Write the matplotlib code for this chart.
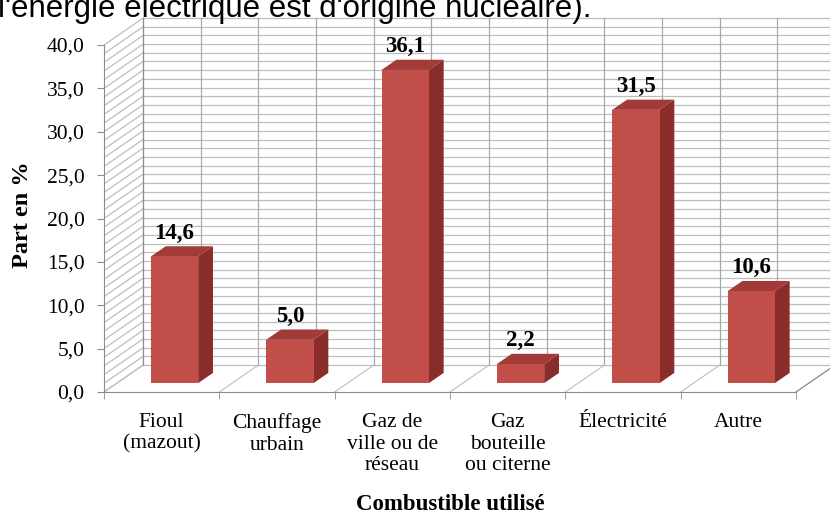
"""
Part des combustibles utilisés pour le chauffage — faux histogramme 3D façon Excel.
"""
import numpy as np
import matplotlib
matplotlib.use("Agg")
import matplotlib.pyplot as plt
from matplotlib.patches import Polygon

# --- données -------------------------------------------------------------
categories = ["Fioul\n(mazout)", "Chauffage\nurbain", "Gaz de\nville ou de\nréseau",
              "Gaz\nbouteille\nou citerne", "Électricité", "Autre"]
values = [14.6, 5.0, 36.1, 2.2, 31.5, 10.6]
y_ticks = [0, 5, 10, 15, 20, 25, 30, 35, 40]
y_max = 40
caption = "l'énergie électrique est d'origine nucléaire)."

# --- style -----------------------------------------------------------------
SERIF = "Liberation Serif"
C_FRONT = "#c24e4a"
C_SIDE = "#8a2c2a"
C_TOP = "#a23a37"
C_GRID = "#bdbdbd"
C_AXIS = "#8c8c8c"

# profondeur de la perspective (en unités de données)
DX = 0.338          # décalage horizontal (catégories)
DY = 3.1            # décalage vertical (unités de valeur)
Z0, Z1 = 0.33, 0.71 # position des barres dans la profondeur
BAR_W = 0.41

W, H = 830, 516
fig = plt.figure(figsize=(W / 100, H / 100), dpi=100)
ax = fig.add_axes([104 / W, 124 / H, (W - 104) / W, 375 / H])
n = len(values)
ax.set_xlim(-0.5, -0.5 + (W - 104) / ((796 - 104) / n))
ax.set_ylim(0, 375 / (347 / y_max))

# paroi de gauche (lignes obliques) et paroi du fond
for v in range(0, y_max + 1):
    ax.plot([-0.5, -0.5 + DX], [v, v + DY], color=C_GRID, lw=0.9, zorder=1)
    ax.plot([-0.5 + DX, n - 0.5 + DX], [v + DY, v + DY], color=C_GRID, lw=0.9, zorder=1)
for k in range(0, 2 * n + 1):
    xb = -0.5 + DX + k * 0.5
    ax.plot([xb, xb], [DY, y_max + DY], color="#a8a8a8", lw=0.9, zorder=1)
ax.plot([-0.5 + DX, -0.5 + DX], [DY, y_max + DY], color=C_AXIS, lw=0.8, zorder=1)

# sol
for k in range(0, n + 1):
    ax.plot([k - 0.5, k - 0.5 + DX], [0, DY], color=C_GRID, lw=0.8, zorder=1)

# barres
for i, v in enumerate(values):
    xl, xr = i - BAR_W / 2, i + BAR_W / 2
    front = [(xl + Z0 * DX, Z0 * DY), (xr + Z0 * DX, Z0 * DY),
             (xr + Z0 * DX, v + Z0 * DY), (xl + Z0 * DX, v + Z0 * DY)]
    side = [(xr + Z0 * DX, Z0 * DY), (xr + Z1 * DX, Z1 * DY),
            (xr + Z1 * DX, v + Z1 * DY), (xr + Z0 * DX, v + Z0 * DY)]
    top = [(xl + Z0 * DX, v + Z0 * DY), (xr + Z0 * DX, v + Z0 * DY),
           (xr + Z1 * DX, v + Z1 * DY), (xl + Z1 * DX, v + Z1 * DY)]
    ax.add_patch(Polygon(side, closed=True, fc=C_SIDE, ec="none", zorder=3))
    ax.add_patch(Polygon(top, closed=True, fc=C_TOP, ec="none", zorder=3))
    ax.add_patch(Polygon(front, closed=True, fc=C_FRONT, ec="none", zorder=4))
    ax.text(i + Z0 * DX, v + Z1 * DY + 0.3, f"{v:.1f}".replace(".", ","),
            ha="center", va="bottom", family=SERIF, fontsize=16.5,
            fontweight="bold", zorder=5)

# axes
for s in ["top", "right"]:
    ax.spines[s].set_visible(False)
ax.spines["left"].set_bounds(0, y_max)
ax.spines["bottom"].set_bounds(-0.5, n - 0.5)
ax.spines["left"].set_color(C_AXIS)
ax.spines["bottom"].set_color(C_AXIS)
ax.plot([n - 0.5, n - 0.5 + DX], [0, DY], color=C_AXIS, lw=0.8, zorder=2)

ax.set_yticks(y_ticks)
ax.set_yticklabels([f"{t:.1f}".replace(".", ",") for t in y_ticks],
                   family=SERIF, fontsize=15.5)
ax.tick_params(axis="y", direction="out", length=5, color=C_AXIS, pad=9)

ax.set_xticks(np.arange(n))
ax.set_xticklabels(categories, family=SERIF, fontsize=15.5, linespacing=1.2,
                   va="top", ha="center")
ax.tick_params(axis="x", which="major", length=0, pad=15)
ax.set_xticks(np.arange(n + 1) - 0.5, minor=True)
ax.tick_params(axis="x", which="minor", direction="out", length=5, color=C_AXIS)

ax.set_ylabel("Part en %", family=SERIF, fontsize=17.5, fontweight="bold")
ax.yaxis.set_label_coords((22 - 104) / (W - 104), (392 - 215) / 375)
ax.yaxis.label.set_va("center")
ax.set_xlabel("Combustible utilisé", family=SERIF, fontsize=16.5, fontweight="bold")
ax.xaxis.set_label_coords((450 - 104) / (W - 104), (392 - 504) / 375)
ax.xaxis.label.set_va("center")

fig.text(-2 / W, 1 - 17 / H, caption, family="Liberation Sans", fontsize=22.5,
         ha="left", va="baseline")

fig.savefig("out.png", dpi=100)
